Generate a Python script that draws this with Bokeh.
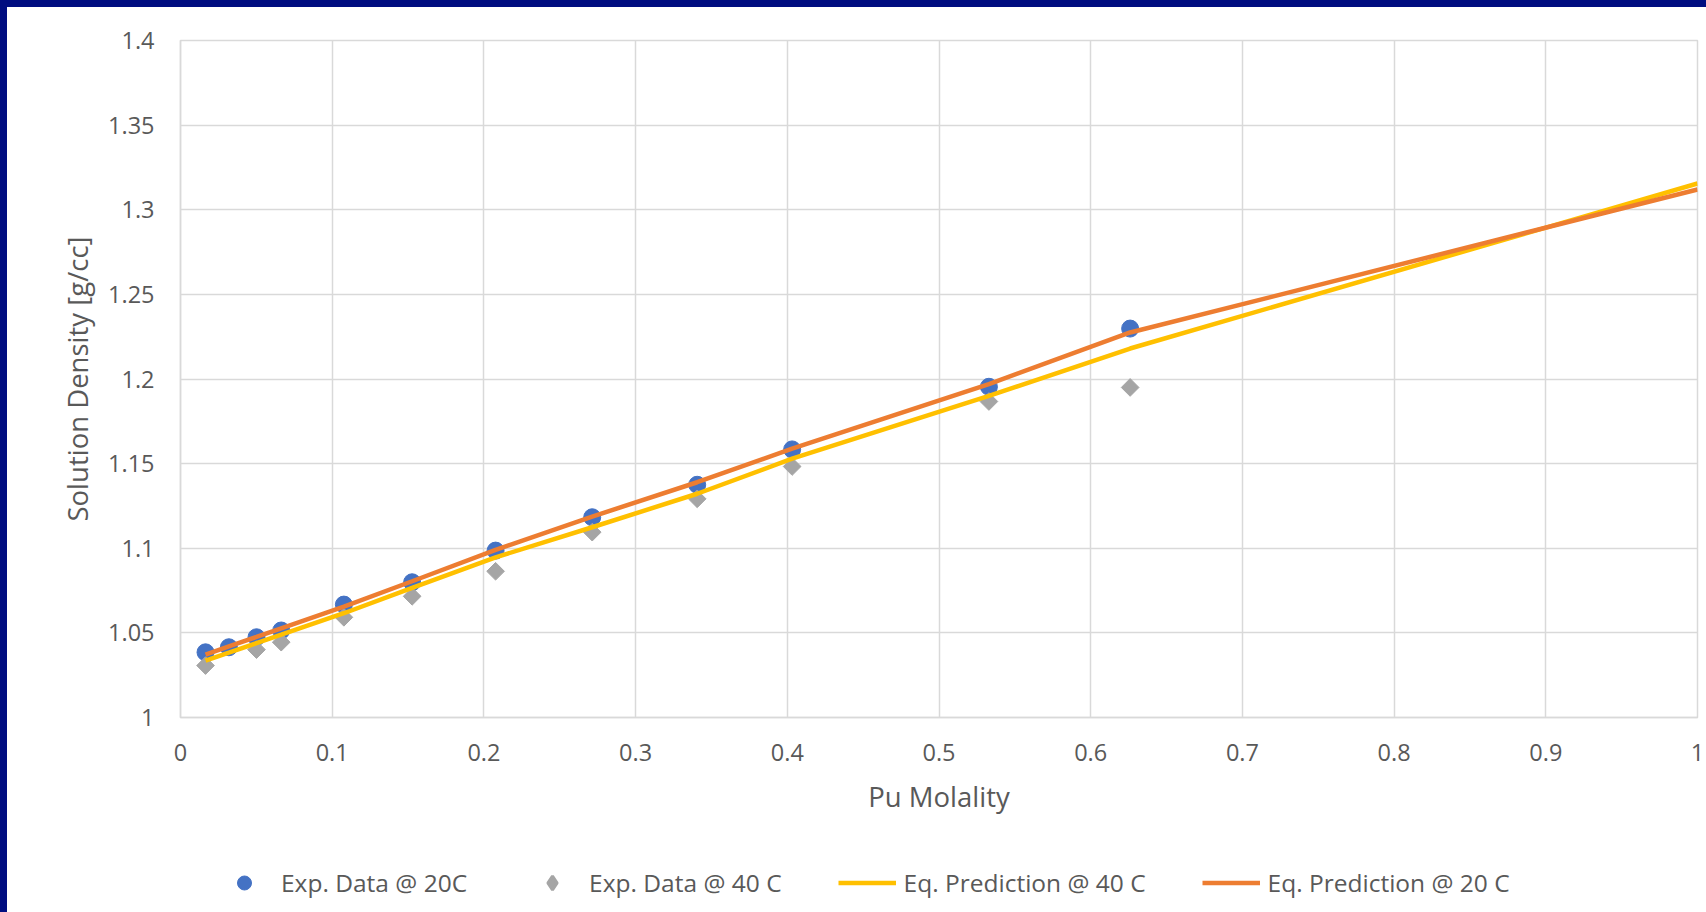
import math
from bokeh.plotting import figure
from bokeh.layouts import column
from bokeh.models import FixedTicker, Legend, LegendItem, Range1d
from bokeh.embed import file_html
from bokeh.resources import INLINE

# ---- data ----
exp20_x = [0.0165, 0.0319, 0.0501, 0.0664, 0.1077, 0.1527, 0.2077, 0.2714, 0.3406, 0.4032, 0.5329, 0.6260]
exp20_y = [1.0385, 1.0415, 1.0474, 1.0514, 1.0667, 1.0799, 1.0986, 1.1183, 1.1375, 1.1584, 1.1954, 1.2298]

exp40_x = [0.0165, 0.0501, 0.0664, 0.1077, 0.1527, 0.2077, 0.2714, 0.3406, 0.4032, 0.5329, 0.6260]
exp40_y = [1.0307, 1.0401, 1.0445, 1.0592, 1.0716, 1.0864, 1.1095, 1.1292, 1.1483, 1.1867, 1.1950]

pred_x = [0.0165, 0.0319, 0.0501, 0.0664, 0.1077, 0.1527, 0.2077, 0.2714, 0.3406, 0.4032, 0.5329, 0.6260, 1.0]
pred40_y = [1.0336, 1.0383, 1.0439, 1.0489, 1.0616, 1.0766, 1.0946, 1.1124, 1.1322, 1.1529, 1.1900, 1.2180, 1.3155]
pred20_y = [1.0372, 1.0420, 1.0476, 1.0527, 1.0655, 1.0805, 1.0990, 1.1187, 1.1390, 1.1588, 1.1970, 1.2275, 1.3120]

x_ticks = [0, 0.1, 0.2, 0.3, 0.4, 0.5, 0.6, 0.7, 0.8, 0.9, 1.0]
x_tick_labels = ["0", "0.1", "0.2", "0.3", "0.4", "0.5", "0.6", "0.7", "0.8", "0.9", "1"]
y_ticks = [1.0, 1.05, 1.1, 1.15, 1.2, 1.25, 1.3, 1.35, 1.4]
y_tick_labels = ["1", "1.05", "1.1", "1.15", "1.2", "1.25", "1.3", "1.35", "1.4"]

series_names = ["Exp. Data @ 20C", "Exp. Data @ 40 C", "Eq. Prediction @ 40 C", "Eq. Prediction @ 20 C"]
x_title = "Pu Molality"
y_title = "Solution Density [g/cc]"

FONT = "Open Sans"
TXT = "#595959"
GRID = "#D9D9D9"
NAVY = "#000D80"
C_BLUE, C_GRAY, C_YEL, C_ORA = "#4472C4", "#A5A5A5", "#FFC000", "#ED7D31"

# ---- chart (page is offset 7px from top/left by the navy frame) ----
p = figure(width=1699, height=845, output_backend="svg", toolbar_location=None,
           x_range=Range1d(0, 1), y_range=Range1d(1.0, 1.4),
           min_border_left=173, min_border_right=9, min_border_top=33, min_border_bottom=135)
p.background_fill_color = "white"
p.border_fill_color = "white"
p.outline_line_color = GRID
p.outline_line_width = 1.5

p.xaxis.ticker = FixedTicker(ticks=x_ticks)
p.yaxis.ticker = FixedTicker(ticks=y_ticks)
p.xaxis.major_label_overrides = {t: l for t, l in zip(x_ticks, x_tick_labels)}
p.yaxis.major_label_overrides = {t: l for t, l in zip(y_ticks, y_tick_labels)}
for ax in (p.xaxis[0], p.yaxis[0]):
    ax.major_tick_line_color = None
    ax.minor_tick_line_color = None
    ax.axis_line_color = GRID
    ax.axis_line_width = 1.5
    ax.major_label_text_font = FONT
    ax.major_label_text_font_size = "23.5px"
    ax.major_label_text_color = TXT
    ax.axis_label_text_font = FONT
    ax.axis_label_text_font_size = "27.5px"
    ax.axis_label_text_color = TXT
    ax.axis_label_text_font_style = "normal"
p.xaxis.axis_label = x_title
p.yaxis.axis_label = y_title
p.xaxis.major_label_standoff = 20
p.yaxis.major_label_standoff = 20
p.xaxis.axis_label_standoff = 14
p.yaxis.axis_label_standoff = 9

p.xgrid.grid_line_color = GRID
p.ygrid.grid_line_color = GRID
p.xgrid.grid_line_width = 1.5
p.ygrid.grid_line_width = 1.5

# glyphs (markers under lines, as in the reference)
p.scatter(exp20_x, exp20_y, marker="circle", size=17, fill_color=C_BLUE, line_color=C_BLUE)
p.scatter(exp40_x, exp40_y, marker="square", angle=math.pi / 4, size=12.5,
          fill_color=C_GRAY, line_color=C_GRAY)
p.line(pred_x, pred40_y, line_color=C_YEL, line_width=4.5)
p.line(pred_x, pred20_y, line_color=C_ORA, line_width=4.5)

# ---- legend strip below the chart ----
pl = figure(width=1699, height=60, output_backend="svg", toolbar_location=None,
            x_range=Range1d(0, 1), y_range=Range1d(0, 1),
            x_axis_type=None, y_axis_type=None, min_border=0)
pl.outline_line_color = None
pl.background_fill_color = "white"
pl.border_fill_color = "white"
pl.xgrid.visible = False
pl.ygrid.visible = False
l1 = pl.scatter([-5], [-5], marker="circle", fill_color=C_BLUE, line_color=C_BLUE)
l2 = pl.scatter([-5], [-5], marker="diamond", fill_color=C_GRAY, line_color=C_GRAY, line_width=3)
l3 = pl.line([-5, -4], [-5, -4], line_color=C_YEL, line_width=4.5)
l4 = pl.line([-5, -4], [-5, -4], line_color=C_ORA, line_width=4.5)
legend = Legend(items=[LegendItem(label=series_names[0], renderers=[l1]),
                       LegendItem(label=series_names[1], renderers=[l2]),
                       LegendItem(label=series_names[2], renderers=[l3]),
                       LegendItem(label=series_names[3], renderers=[l4])],
                orientation="horizontal", location=(35, 12),
                glyph_width=58, glyph_height=35, label_standoff=8, spacing=56,
                padding=0, margin=0, border_line_color=None, background_fill_alpha=0,
                label_text_font=FONT, label_text_font_size="24.5px", label_text_color=TXT)
pl.add_layout(legend, "center")

layout = column(p, pl, spacing=0,
                styles={"border-top": "7px solid " + NAVY, "border-left": "7px solid " + NAVY,
                        "background-color": "white"})

open("out.html", "w").write(file_html(layout, INLINE))
